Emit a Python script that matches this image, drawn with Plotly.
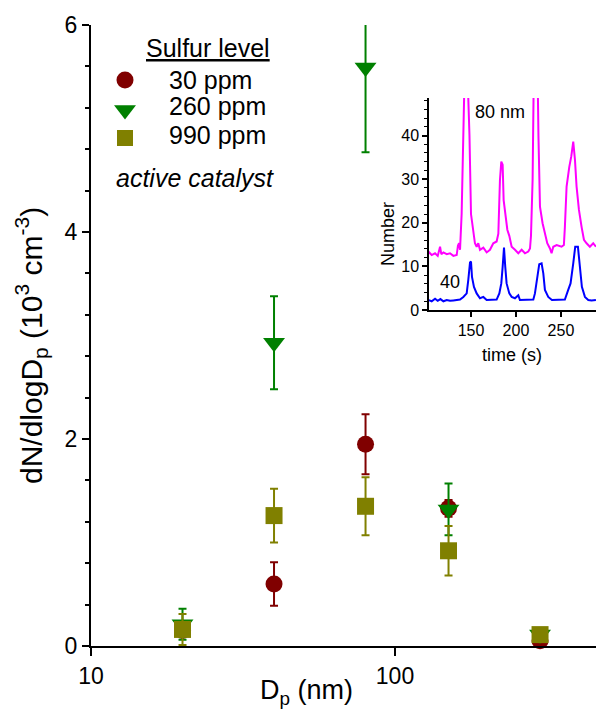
import plotly.graph_objects as go

# ---------------- main data ----------------
diameters = [20, 40, 80, 150, 300]
s30 = [0.15, 0.60, 1.95, 1.33, 0.05]
e30 = [0.05, 0.21, 0.29, 0.08, 0.02]
s260 = [0.21, 2.93, 5.59, 1.32, 0.11]
e260 = [0.15, 0.45, 0.82, 0.25, 0.03]
s990 = [0.16, 1.26, 1.35, 0.92, 0.11]
e990 = [0.15, 0.26, 0.28, 0.24, 0.03]
series_names = ["30 ppm", "260 ppm", "990 ppm"]
series_vals = [s30, s260, s990]
series_errs = [e30, e260, e990]
colors = ["#800000", "#008000", "#808000"]
symbols = ["circle", "triangle-down", "square"]
msizes = [17, 19, 17]

x_major = [10, 100]
x_major_text = ["10", "100"]
x_minor = [20, 30, 40, 50, 60, 70, 80, 90, 200, 300, 400]

# ---------------- inset data ----------------
t80 = [102.6, 106.3, 110, 113, 115.6, 117, 119.3, 123, 126.7, 130.4, 134.1, 135.5, 136.7,
       137.8, 139.6, 141.5, 143, 146, 148.3, 150, 151.9, 154.4, 156.3, 158.1, 160, 163.7,
       167.4, 171.1, 174.8, 178.5, 180.4, 182.2, 183.7, 185.2, 186.3, 188.1, 190.4, 192.6,
       195.2, 198.9, 202.6, 206.3, 210, 213.7, 215.6, 216.7, 218.5, 219.6, 221, 223.7, 225,
       226.7, 229.6, 232.2, 234.8, 237.8, 239.6, 241.5, 245.2, 250.7, 253.3, 254.4, 256.3,
       259.3, 261.5, 263.7, 265.6, 267.4, 270, 273, 275.6, 278.5, 282.2, 285.9, 288.9]
n80 = [13.4, 12.6, 13.0, 12.4, 14.5, 12.8, 13.2, 12.8, 13.0, 12.4, 12.6, 14.8, 15.3,
       13.8, 22, 40, 55, 55, 40, 22, 19, 15.3, 14.5, 15.3, 13.8, 14.3,
       13.2, 13.8, 15.3, 15.7, 17.5, 29.8, 34, 33.3, 25.2, 22.2, 18.4, 17,
       14.5, 13.8, 13, 13.8, 13, 13.4, 14.1, 17, 29.8, 50, 60, 60, 40,
       23.7, 19.9, 17.5, 15.3, 14.1, 13, 14.5, 14.9, 14.5, 14.9, 19, 28.3,
       32.8, 35.2, 38.6, 34.4, 28.3, 23, 19, 16.1, 15.3, 14.5, 15.3, 14.5]
t40 = [102.6, 106.3, 110, 113, 116, 119.3, 123, 126.7, 130.4, 134.1, 137.8, 141.5, 145.2,
       147, 148.9, 150, 151.1, 153.3, 156.3, 160, 163.7, 167.4, 171.1, 174.8, 178.5, 181.5,
       183.7, 185.2, 186.7, 188.1, 189.6, 192.6, 195.2, 198.9, 202.6, 204.4, 210, 215.6,
       219.3, 221.1, 223.7, 225.9, 228.5, 230.4, 232.2, 235.9, 240, 245, 250, 254.4, 258.1,
       260.7, 263.7, 265.9, 268.9, 271.1, 273.3, 276.7, 280.4, 284, 288.9]
n40 = [2.3, 2.0, 2.6, 2.1, 2.5, 2.0, 2.3, 2.1, 2.2, 2.3, 2.4, 3.0, 3.8,
       6.9, 10.9, 11.1, 7.6, 5.3, 3.8, 2.7, 3.0, 2.3, 2.3, 2.3, 2.4, 3.8,
       6.1, 9.9, 14.3, 9.9, 6.1, 3.8, 3.0, 2.7, 3.4, 2.3, 2.3, 2.3,
       2.4, 3.8, 7.6, 10.5, 10.7, 8.4, 4.6, 3.0, 2.3, 2.3, 2.3, 2.4, 4.6,
       6.1, 10.7, 14.5, 14.5, 9.2, 5.3, 3.0, 2.3, 2.2, 2.3]
inset_xticks = [150, 200, 250]

# ---------------- layout geometry (pixels) ----------------
W, H = 596, 711
X0, X1 = 91, 596
Y0, Y1 = 646, 25  # bottom, top
PW, PH = X1 - X0, Y0 - Y1


def px(x):
    return (x - X0) / PW


def py(y):
    return (Y0 - y) / PH


FONT = "Liberation Sans, Arial, Helvetica, sans-serif"

fig = go.Figure()

# error bars (clipped to plot area) and markers (unclipped)
for name, v, e, c, s, ms in zip(series_names, series_vals, series_errs, colors, symbols, msizes):
    fig.add_trace(go.Scatter(
        x=diameters, y=v, mode="markers", showlegend=False, hoverinfo="skip",
        marker=dict(size=2, opacity=0, color=c),
        error_y=dict(type="data", array=e, visible=True, color=c, thickness=2, width=4),
        cliponaxis=True, xaxis="x", yaxis="y"))
    fig.add_trace(go.Scatter(
        x=diameters, y=v, mode="markers", name=name, showlegend=False,
        marker=dict(symbol=s, size=ms, color=c, line=dict(width=0)),
        cliponaxis=False, xaxis="x", yaxis="y"))

# inset lines
fig.add_trace(go.Scatter(x=t80, y=n80, mode="lines", line=dict(color="#FF00FF", width=2),
                         showlegend=False, xaxis="x3", yaxis="y3"))
fig.add_trace(go.Scatter(x=t40, y=n40, mode="lines", line=dict(color="#0000FF", width=2),
                         showlegend=False, xaxis="x3", yaxis="y3"))

# legend keys on a hidden pixel-scaled axis
leg_x = 125
leg_rows = [80, 110, 138]
for r, c, s, ms in zip(leg_rows, colors, symbols, [17, 19, 16]):
    fig.add_trace(go.Scatter(x=[leg_x], y=[r], mode="markers", showlegend=False, hoverinfo="skip",
                             marker=dict(symbol=s, size=ms, color=c), xaxis="x4", yaxis="y4",
                             cliponaxis=False))

xr = [1, 1 + PW / 304.0]

fig.update_layout(
    width=W, height=H,
    margin=dict(l=X0, r=W - X1, t=Y1, b=H - Y0, pad=0),
    paper_bgcolor="white", plot_bgcolor="rgba(0,0,0,0)",
    font=dict(family=FONT, size=23, color="black"),
    showlegend=False,
    xaxis=dict(type="log", range=xr, ticks="outside", ticklen=8, tickwidth=2, tickcolor="black",
               tickmode="array", tickvals=x_major, ticktext=x_major_text,
               tickfont=dict(size=23), anchor="y",
               showgrid=False, zeroline=False, showline=True, linecolor="black", linewidth=2),
    xaxis5=dict(type="log", range=xr, overlaying="x", side="bottom", anchor="y",
                ticks="outside", ticklen=5, tickwidth=1.5, tickcolor="black",
                tickmode="array", tickvals=x_minor, showticklabels=False,
                showgrid=False, zeroline=False, showline=False),
    xaxis2=dict(type="log", range=xr, overlaying="x", side="top", anchor="y",
                ticks="inside", ticklen=8, tickwidth=2, tickcolor="black",
                tickmode="array", tickvals=x_major, showticklabels=False,
                showgrid=False, zeroline=False, showline=True, linecolor="black", linewidth=2),
    xaxis6=dict(type="log", range=xr, overlaying="x", side="top", anchor="y",
                ticks="inside", ticklen=5, tickwidth=1.5, tickcolor="black",
                tickmode="array", tickvals=x_minor, showticklabels=False,
                showgrid=False, zeroline=False, showline=False),
    yaxis=dict(range=[0, 6], tick0=0, dtick=2, ticks="outside", ticklen=7, tickwidth=2,
               tickcolor="black", tickfont=dict(size=23),
               minor=dict(dtick=0.4, ticks="outside", ticklen=4, tickwidth=1.5,
                          tickcolor="black", showgrid=False),
               anchor="x", showgrid=False, zeroline=False, showline=True,
               linecolor="black", linewidth=2),
    xaxis3=dict(domain=[px(429), 1.0], range=[103.3, 289], anchor="y3",
                tickmode="array", tickvals=inset_xticks, ticks="outside", ticklen=5,
                tickwidth=1.5, tickcolor="black", tickfont=dict(size=16),
                showgrid=False, zeroline=False, showline=True, linecolor="black", linewidth=1.5),
    yaxis3=dict(domain=[py(310), py(98)], range=[0, 48.6], anchor="x3",
                tick0=0, dtick=10, ticks="outside", ticklen=5, tickwidth=1.5,
                tickcolor="black", tickfont=dict(size=16),
                minor=dict(dtick=2, ticks="outside", ticklen=3, tickwidth=1,
                           tickcolor="black", showgrid=False),
                showgrid=False, zeroline=False, showline=True, linecolor="black", linewidth=1.5),
    xaxis4=dict(domain=[0, 1], range=[X0, X1], visible=False, anchor="y4", fixedrange=True),
    yaxis4=dict(domain=[0, 1], range=[Y0, Y1], visible=False, anchor="x4", fixedrange=True),
)

ann = []
ann.append(dict(text="<u>Sulfur level</u>", x=px(208), y=py(48), xanchor="center", yanchor="middle",
                font=dict(size=25)))
for lab, r in zip(series_names, [80, 106, 135]):
    ann.append(dict(text=lab, x=px(167), y=py(r), xanchor="left", yanchor="middle", font=dict(size=25)))
ann.append(dict(text="<i>active catalyst</i>", x=px(114), y=py(178), xanchor="left", yanchor="middle",
                font=dict(size=25)))
ann.append(dict(text="80 nm", x=px(473), y=py(112), xanchor="left", yanchor="middle", font=dict(size=18)))
ann.append(dict(text="40", x=px(438), y=py(282), xanchor="left", yanchor="middle", font=dict(size=18)))
ann.append(dict(text="Number", textangle=-90, x=px(388), y=py(234), xanchor="center", yanchor="middle",
                font=dict(size=18)))
ann.append(dict(text="time (s)", x=px(512), y=py(355), xanchor="center", yanchor="middle",
                font=dict(size=18)))
ann.append(dict(text="dN/dlogD<sub>p</sub> (10<sup>3</sup> cm<sup>-3</sup>)", textangle=-90,
                x=px(31), y=py(346), xanchor="center", yanchor="middle", font=dict(size=30)))
ann.append(dict(text="D<sub>p</sub> (nm)", x=px(306), y=py(692), xanchor="center", yanchor="middle",
                font=dict(size=27)))
for a in ann:
    a.update(xref="paper", yref="paper", showarrow=False)
fig.update_layout(annotations=ann)

fig.write_html("out.html", config={"displayModeBar": False},
               post_script="document.body.style.margin='0px';")
